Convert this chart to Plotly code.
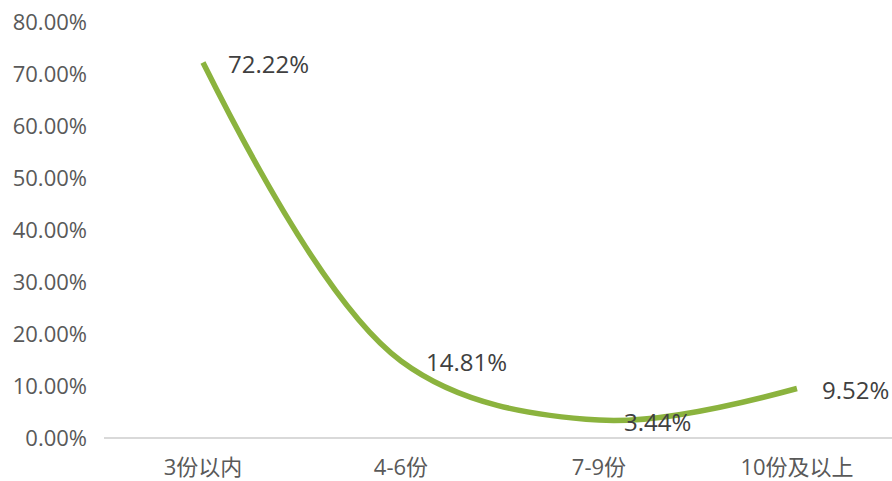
import plotly.graph_objects as go

categories = ["3份以内", "4-6份", "7-9份", "10份及以上"]
values = [72.22, 14.81, 3.44, 9.52]
value_labels = ["72.22%", "14.81%", "3.44%", "9.52%"]
y_ticks = [0, 10, 20, 30, 40, 50, 60, 70, 80]
y_tick_labels = ["0.00%", "10.00%", "20.00%", "30.00%", "40.00%", "50.00%", "60.00%", "70.00%", "80.00%"]

FONT = "Open Sans, Noto Sans CJK SC, sans-serif"

fig = go.Figure()
fig.add_trace(go.Scatter(
    x=categories, y=values, mode="lines",
    line=dict(color="#8bb33e", width=5.5, shape="spline", smoothing=1.0),
    hoverinfo="skip", cliponaxis=False,
))

for c, v, t in zip(categories, values, value_labels):
    fig.add_annotation(x=c, y=v, text=t, showarrow=False, xanchor="left", yanchor="middle",
                       xshift=23, yshift=-1, font=dict(family=FONT, size=24, color="#404040"))

fig.update_layout(
    width=892, height=481,
    margin=dict(l=104, r=0, t=22, b=43, autoexpand=False),
    paper_bgcolor="white", plot_bgcolor="white",
    showlegend=False,
    font=dict(family=FONT, color="#595959"),
)
fig.update_xaxes(
    type="category", range=[-0.5, 3.48], automargin=False,
    showgrid=False, showline=False, zeroline=False, ticks="",
    ticklabelstandoff=14,
    tickfont=dict(family=FONT, size=22, color="#595959"),
)
fig.update_yaxes(
    range=[0, 80], tickvals=y_ticks, ticktext=y_tick_labels, automargin=False,
    showgrid=False, showline=False, zeroline=True, zerolinecolor="#d9d9d9", zerolinewidth=2,
    ticks="", ticklabelstandoff=16,
    tickfont=dict(family=FONT, size=22, color="#595959"),
)

fig.write_html("out.html", config={"displayModeBar": False},
               post_script="document.body.style.margin='0';")
